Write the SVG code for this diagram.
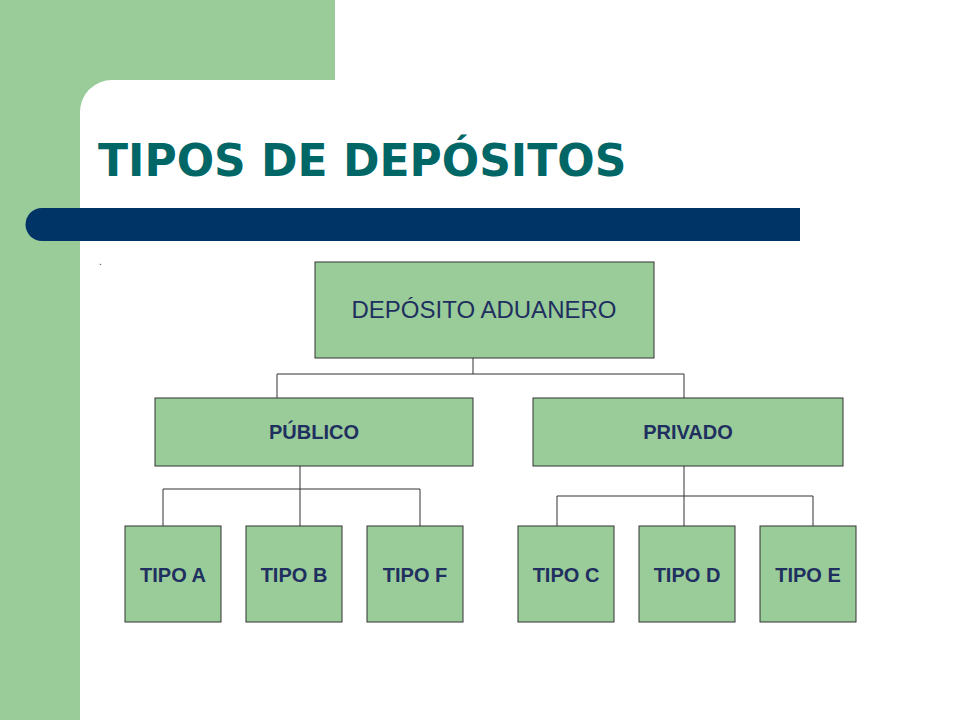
<svg xmlns="http://www.w3.org/2000/svg" width="960" height="720" viewBox="0 0 960 720">
<style>
.box{fill:#99CC99;stroke:#333333;stroke-width:1}
.t{font-family:"Liberation Sans",Arial,sans-serif;fill:#1F2F5F;text-anchor:middle}
.b{font-weight:bold;font-size:20px}
.c{fill:none;stroke:#333333;stroke-width:1}
</style>
<rect width="960" height="720" fill="#ffffff"/>
<rect x="0" y="0" width="80" height="720" fill="#99CC99"/>
<rect x="0" y="0" width="335" height="80" fill="#99CC99"/>
<path d="M80 80 H112 A32 32 0 0 0 80 112 Z" fill="#99CC99"/>
<text x="98" y="176" font-family="Verdana,'DejaVu Sans',sans-serif" font-weight="bold" font-size="44" fill="#006666">TIPOS DE DEPÓSITOS</text>
<path d="M42 208 H800 V241 H42 A16.5 16.5 0 0 1 42 208 Z" fill="#003366"/>
<text x="99" y="265" font-family="Liberation Sans,sans-serif" font-size="10" fill="#333">.</text>
<g id="connectors">
<path class="c" d="M473 358 V374 M277 374 H684 M277 374 V398 M684 374 V398"/>
<path class="c" d="M300 466 V489 M163 489 H420 M163 489 V526 M300 489 V526 M420 489 V526"/>
<path class="c" d="M684 466 V496 M557 496 H813 M557 496 V526 M684 496 V526 M813 496 V526"/>
</g>
<g id="root"><rect class="box" x="315" y="262" width="339" height="96"/><text class="t" x="484" y="318" font-size="24">DEPÓSITO ADUANERO</text></g>
<g id="publico"><rect class="box" x="155" y="398" width="318" height="68"/><text class="t b" x="314" y="439">PÚBLICO</text></g>
<g id="privado"><rect class="box" x="533" y="398" width="310" height="68"/><text class="t b" x="688" y="439">PRIVADO</text></g>
<g id="tipoA"><rect class="box" x="125" y="526" width="96" height="96"/><text class="t b" x="173" y="582">TIPO A</text></g>
<g id="tipoB"><rect class="box" x="246" y="526" width="96" height="96"/><text class="t b" x="294" y="582">TIPO B</text></g>
<g id="tipoF"><rect class="box" x="367" y="526" width="96" height="96"/><text class="t b" x="415" y="582">TIPO F</text></g>
<g id="tipoC"><rect class="box" x="518" y="526" width="96" height="96"/><text class="t b" x="566" y="582">TIPO C</text></g>
<g id="tipoD"><rect class="box" x="639" y="526" width="96" height="96"/><text class="t b" x="687" y="582">TIPO D</text></g>
<g id="tipoE"><rect class="box" x="760" y="526" width="96" height="96"/><text class="t b" x="808" y="582">TIPO E</text></g>
</svg>
